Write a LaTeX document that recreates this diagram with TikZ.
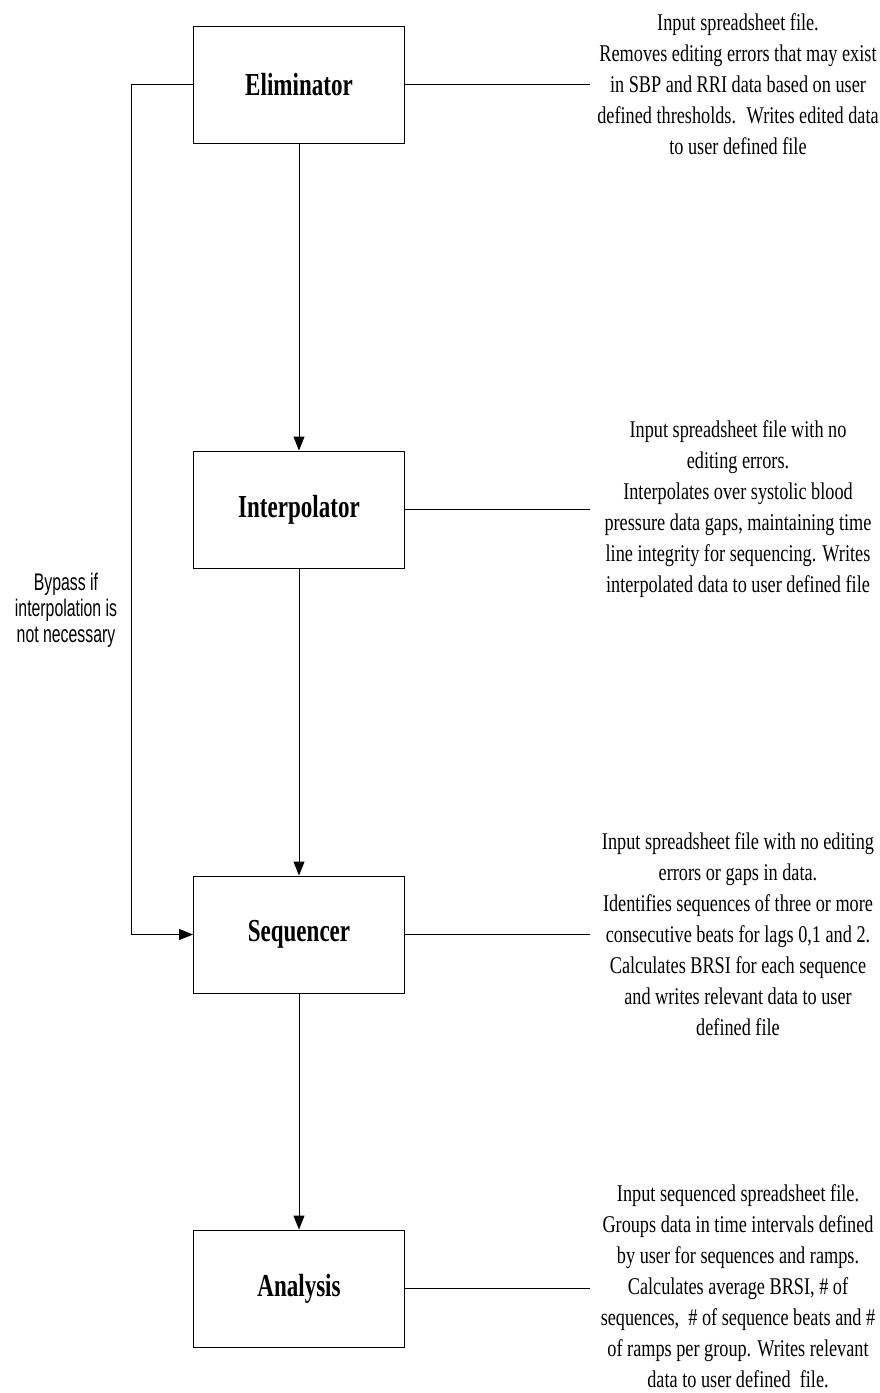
\documentclass[tikz,border=0pt]{standalone}
\usepackage{fontspec}
\usetikzlibrary{arrows.meta}
\newfontfamily\stagefont{Liberation Serif}[FakeStretch=0.72]
\newfontfamily\descfont{Liberation Serif}[FakeStretch=0.76]
\newfontfamily\notefont{Liberation Sans}[FakeStretch=0.66]
\tikzstyle{stage} = [rectangle, minimum width=211pt, minimum height=117pt, text centered, draw=black, line width=1pt, font=\stagefont\bfseries\fontsize{32}{36}\selectfont]
\tikzstyle{desc} = [align=center, font=\descfont\fontsize{24}{31}\selectfont]
\tikzstyle{note} = [align=center, font=\notefont\fontsize{24}{26}\selectfont]
\tikzstyle{arrow} = [line width=1pt, -{Triangle[length=14pt, width=11pt]}]
\tikzstyle{link} = [line width=1.8pt]

\begin{document}
\begin{tikzpicture}[x=1pt, y=1pt, node distance=425pt]
\useasboundingbox (0,0) rectangle (880,-1393);
% the four program stages
\node(elim)[stage] at (299,-84.5) {Eliminator};
\node(interp)[stage, below of=elim]{Interpolator};
\draw[arrow] (elim) -- (interp);
\node(seq)[stage, below of=interp]{Sequencer};
\draw[arrow] (interp) -- (seq);
\node(ana)[stage, below of=seq, yshift=71pt]{Analysis};
\draw[arrow] (seq) -- (ana);
% bypass of the interpolator
\draw[arrow] (elim.west) -- ++(-62,0) |- (seq.west);
\node(bypass)[note] at (66,-610) {Bypass if\\interpolation is\\not necessary};
% descriptions
\node(elimtxt)[desc, right of=elim, xshift=14pt]{Input spreadsheet file.\\
Removes editing errors that may exist\\
in SBP and RRI data based on user\\
defined thresholds.~ Writes edited data\\
to user defined file};
\coordinate(elimend) at ([xshift=185pt]elim.east);
\draw[link] (elim.east) -- (elimend);
\node(interptxt)[desc, right of=interp, xshift=14pt]{Input spreadsheet file with no\\
editing errors.\\
Interpolates over systolic blood\\
pressure data gaps, maintaining time\\
line integrity for sequencing. Writes\\
interpolated data to user defined file};
\coordinate(interpend) at ([xshift=185pt]interp.east);
\draw[link] (interp.east) -- (interpend);
\node(seqtxt)[desc, right of=seq, xshift=14pt]{Input spreadsheet file with no editing\\
errors or gaps in data.\\
Identifies sequences of three or more\\
consecutive beats for lags 0,1 and 2.\\
Calculates BRSI for each sequence\\
and writes relevant data to user\\
defined file};
\coordinate(seqend) at ([xshift=185pt]seq.east);
\draw[link] (seq.east) -- (seqend);
\node(anatxt)[desc, right of=ana, xshift=14pt, yshift=2pt]{Input sequenced spreadsheet file.\\
Groups data in time intervals defined\\
by user for sequences and ramps.\\
Calculates average BRSI, \# of\\
sequences,~ \# of sequence beats and \#\\
of ramps per group. Writes relevant\\
data to user defined~ file.};
\coordinate(anaend) at ([xshift=185pt]ana.east);
\draw[link] (ana.east) -- (anaend);
\end{tikzpicture}
\end{document}
